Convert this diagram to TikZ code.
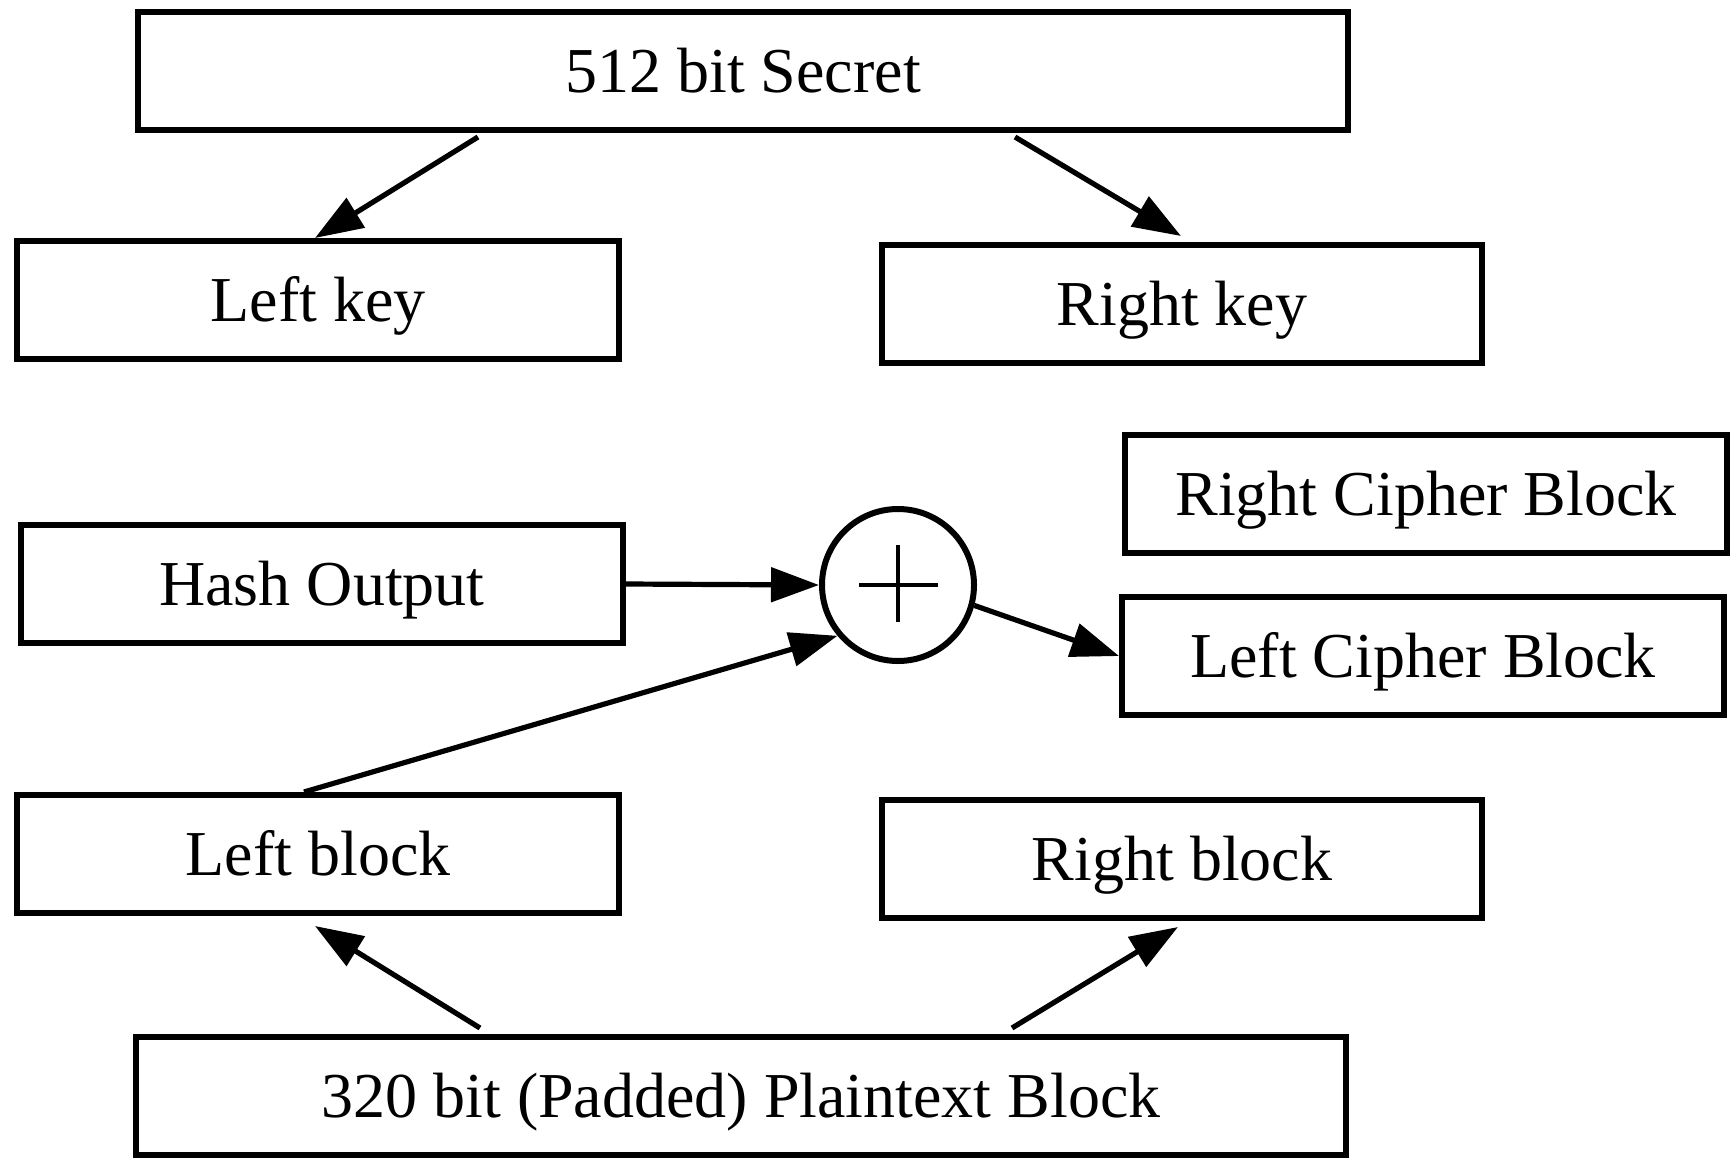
\documentclass[tikz,border=0pt]{standalone}
\usepackage{fontspec}
\setmainfont{Liberation Serif}
\usetikzlibrary{arrows.meta,calc}
\begin{document}
\begin{tikzpicture}[x=0.5pt,y=-0.5pt,
  box/.style={draw, line width=3pt, minimum width=#1*0.5pt-3pt, minimum height=59pt,
    inner sep=0pt, font=\fontsize{32}{38}\selectfont, text height=21.2pt, text depth=0pt},
  arr/.style={line width=2.6pt, -{Triangle[length=24pt,width=17pt]}},
  plusline/.style={line width=2.2pt}]
\useasboundingbox (0,0) rectangle (1734,1157);
\node[box=1216] (secret) at (743,71) {512 bit Secret};
\node[box=608] (lkey) at (318,300) {Left key};
\node[box=606] (rkey) at (1182,304) {Right key};
\node[box=608] (rcb) at (1426,494) {Right Cipher Block};
\node[box=608] (hash) at (322,584) {Hash Output};
\node[draw, circle, line width=3pt, minimum size=76pt, inner sep=0pt] (circ) at (898,585) {};
\node[box=608] (lcb) at (1423,656) {Left Cipher Block};
\node[box=608] (lblock) at (318,854) {Left block};
\node[box=606] (rblock) at (1182,859) {Right block};
\node[box=1216] (plain) at (741,1096) {320 bit (Padded) Plaintext Block};
\draw[plusline] ($(circ.center)+(0,-40)$) -- ($(circ.center)+(0,37)$);
\draw[plusline] ($(circ.center)+(-39,0)$) -- ($(circ.center)+(40,0)$);
\draw[arr] ($(secret.south)+(-265,4)$) -- ($(lkey.north)+(-3,0)$);
\draw[arr] ($(secret.south)+(272,4)$) -- ($(rkey.north)+(-1,-6)$);
\draw[arr] (hash.east) -- (circ.west);
\draw[arr] ($(lblock.north)+(-14,0)$) -- (circ.220);
\draw[arr] (circ.-15) -- (lcb.west);
\draw[arr] ($(plain.north)+(-261,-6)$) -- ($(lblock.south)+(-3,10)$);
\draw[arr] ($(plain.north)+(271,-6)$) -- ($(rblock.south)+(-4,6)$);
\end{tikzpicture}
\end{document}
